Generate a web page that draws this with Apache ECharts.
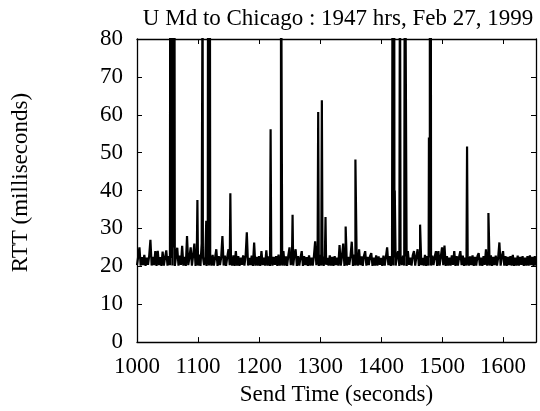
<!DOCTYPE html>
<html>
<head>
<meta charset="utf-8">
<script src="https://cdn.jsdelivr.net/npm/echarts@6/dist/echarts.min.js"></script>
<style>
  html, body { margin: 0; padding: 0; background: #fff; }
  #main { width: 540px; height: 411px; }
</style>
</head>
<body>
<div id="main"></div>
<script>
// send times start here, one baseline sample every 2 s
const startTime = 1000;
const stepTime = 2;

// baseline RTT (ms), read row by row, 20 samples = 40 s per row
const baseRtt = [
  20.3, 22.6, 25.0, 20.2, 22.4, 20.3, 23.0, 20.1, 22.3, 20.4, 22.8, 27.0, 20.2, 22.5, 20.3, 24.0, 20.1, 24.1, 20.3, 22.4,
  20.1, 23.9, 20.2, 22.3, 24.2, 20.2, 22.7, 20.3, 22.2, 20.2, 25.0, 20.1, 22.6, 24.9, 20.2, 22.8, 20.4, 25.4, 20.2, 22.5,
  20.1, 28.0, 20.3, 22.4, 25.0, 20.2, 22.9, 26.0, 20.1, 22.5, 20.2, 23.1, 20.1, 26.0, 22.6, 20.3, 22.2, 20.1, 22.9, 20.2,
  22.6, 20.2, 23.0, 20.2, 22.3, 24.5, 20.1, 22.7, 20.3, 22.4, 28.0, 20.2, 22.8, 20.1, 22.5, 24.5, 20.3, 22.2, 20.2, 22.9,
  20.1, 24.0, 20.2, 22.7, 20.1, 22.3, 20.4, 22.9, 20.2, 22.6, 29.0, 20.2, 22.2, 20.3, 22.8, 20.1, 26.3, 20.2, 22.5, 20.2,
  22.7, 20.1, 24.0, 20.3, 22.3, 20.2, 24.2, 20.2, 22.6, 20.1, 22.9, 20.2, 22.5, 20.4, 22.7, 20.1, 23.1, 20.2, 22.3, 20.2,
  24.0, 20.2, 22.6, 20.1, 22.8, 25.0, 20.3, 22.2, 20.2, 23.0, 24.5, 20.1, 22.7, 20.2, 22.3, 24.0, 20.1, 22.7, 20.3, 22.4,
  20.1, 22.9, 20.2, 22.3, 20.2, 22.7, 26.6, 20.3, 22.5, 20.1, 23.0, 20.2, 22.6, 20.1, 22.8, 20.4, 22.2, 20.2, 22.9, 20.2,
  22.5, 20.1, 22.7, 20.3, 22.3, 20.2, 25.6, 20.2, 22.6, 26.0, 20.1, 22.9, 20.2, 22.5, 20.4, 22.7, 26.5, 20.1, 23.1, 20.2,
  22.3, 20.2, 24.5, 20.3, 22.6, 20.1, 22.8, 24.0, 20.2, 22.5, 20.3, 22.7, 23.5, 20.1, 22.3, 20.2, 22.9, 20.2, 22.6, 20.4,
  22.2, 20.1, 22.8, 20.2, 22.5, 25.0, 20.3, 22.7, 20.1, 22.9, 20.2, 22.3, 20.2, 22.7, 24.0, 20.1, 22.5, 20.3, 22.8, 20.2,
  22.6, 20.1, 24.0, 20.4, 22.3, 20.2, 22.9, 24.0, 20.2, 22.6, 24.5, 20.1, 22.7, 20.3, 22.2, 20.2, 23.0, 20.1, 22.7, 20.2,
  22.3, 20.2, 22.8, 20.3, 22.5, 24.0, 20.1, 24.0, 20.2, 22.6, 25.0, 20.3, 25.5, 20.1, 22.7, 20.2, 22.3, 20.2, 22.9, 20.4,
  24.0, 20.1, 22.7, 20.2, 22.5, 24.0, 20.3, 22.8, 20.1, 22.3, 20.2, 22.7, 20.2, 22.6, 20.3, 22.9, 20.1, 22.5, 20.2, 22.7,
  23.5, 20.2, 22.3, 20.1, 22.7, 20.4, 24.5, 20.2, 22.6, 20.2, 22.9, 20.1, 22.5, 20.3, 22.8, 20.2, 22.3, 26.3, 20.2, 22.6,
  24.0, 20.2, 22.7, 20.1, 22.5, 20.3, 22.7, 20.2, 23.0, 20.1, 22.3, 20.2, 22.8, 20.2, 22.5, 20.4, 22.7, 20.1, 22.3, 20.2,
  22.7, 20.2, 22.9, 20.3, 22.5, 20.1, 22.7, 20.2
];

// the big delay spikes: send time (s) and RTT (ms); >80 runs off the top
const spikeTime = [1054.5, 1055.5, 1056.5, 1057.5, 1059.5, 1061.5, 1099, 1107.5, 1113.5,
  1116.5, 1117.5, 1118.5, 1119.5, 1153, 1219, 1236, 1255, 1297, 1303, 1309, 1342, 1358,
  1419, 1420.5, 1421.5, 1422.5, 1431, 1439, 1440, 1464, 1478.5, 1480, 1481.5, 1541, 1576];
const spikeRtt = [120, 95, 58, 140, 110, 90, 37.5, 100, 32,
  120, 90, 130, 100, 39.3, 56.2, 120, 33.6, 60.7, 63.8, 33, 30.5, 48.2,
  120, 100, 130, 40, 110, 120, 95, 31, 54, 110, 130, 51.6, 34.1];

const xTicks = [1000, 1100, 1200, 1300, 1400, 1500, 1600];
const yTicks = [0, 10, 20, 30, 40, 50, 60, 70, 80];

// merge baseline and spikes into one time-ordered trace
let points = [];
for (let i = 0; i < baseRtt.length; i++) {
  points.push([startTime + i * stepTime, baseRtt[i]]);
}
for (let i = 0; i < spikeTime.length; i++) {
  points.push([spikeTime[i], spikeRtt[i]]);
}
points.sort((a, b) => a[0] - b[0]);

const serif = 'Liberation Serif';
const chart = echarts.init(document.getElementById('main'), null, { renderer: 'canvas' });

function xAxisCfg(pos, labels) {
  return {
    type: 'value',
    position: pos,
    min: 1000,
    max: 1654,
    interval: 100,
    axisLine: { show: true, onZero: false, lineStyle: { color: '#000', width: 1.3 } },
    axisTick: { show: true, inside: true, length: 5, lineStyle: { color: '#000' } },
    splitLine: { show: false },
    axisLabel: {
      show: labels,
      color: '#000',
      fontFamily: serif,
      fontSize: 23,
      margin: 13,
      formatter: v => (xTicks.indexOf(v) >= 0 ? String(v) : '')
    }
  };
}

function yAxisCfg(pos, labels) {
  return {
    type: 'value',
    position: pos,
    min: yTicks[0],
    max: yTicks[yTicks.length - 1],
    interval: 10,
    axisLine: { show: true, onZero: false, lineStyle: { color: '#000', width: 1.3 } },
    axisTick: { show: true, inside: true, length: 5, lineStyle: { color: '#000' } },
    splitLine: { show: false },
    axisLabel: {
      show: labels,
      color: '#000',
      fontFamily: serif,
      fontSize: 23,
      margin: 14
    }
  };
}

const xMain = xAxisCfg('bottom', true);
xMain.name = 'Send Time (seconds)';
xMain.nameLocation = 'middle';
xMain.nameGap = 37;
xMain.nameTextStyle = { color: '#000', fontFamily: serif, fontSize: 23 };

const yMain = yAxisCfg('left', true);
yMain.name = 'RTT (milliseconds)';
yMain.nameLocation = 'middle';
yMain.nameGap = 105;
yMain.nameTextStyle = { color: '#000', fontFamily: serif, fontSize: 23, padding: [0, 0, 0, 16] };

const option = {
  backgroundColor: '#fff',
  animation: false,
  title: {
    text: 'U Md to Chicago : 1947 hrs, Feb 27, 1999',
    left: 333,
    textAlign: 'center',
    top: 2,
    textStyle: { color: '#000', fontFamily: serif, fontSize: 23, fontWeight: 'normal' }
  },
  grid: { left: 137, right: 4, top: 39, bottom: 65 },
  xAxis: [xMain, xAxisCfg('top', false)],
  yAxis: [yMain, yAxisCfg('right', false)],
  series: [
    {
      type: 'line',
      data: points,
      showSymbol: false,
      symbol: 'none',
      clip: true,
      lineStyle: { color: '#000', width: 2.2 }
    }
  ]
};
chart.setOption(option);
</script>
</body>
</html>
